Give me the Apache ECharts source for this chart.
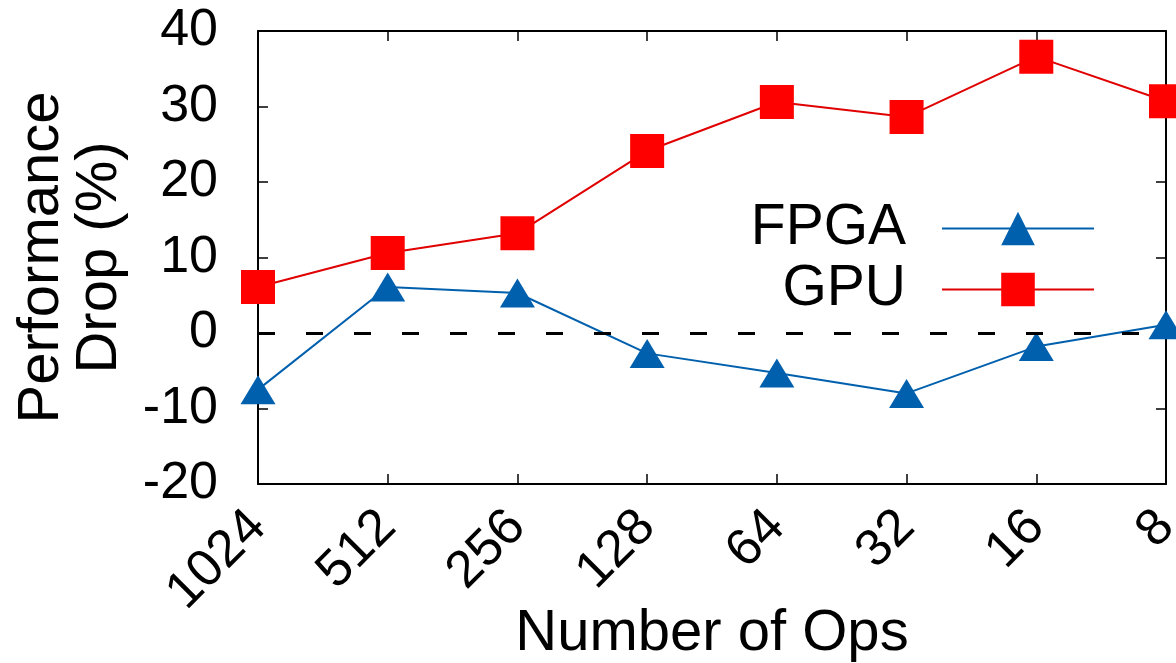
<!DOCTYPE html>
<html><head><meta charset="utf-8">
<script src="https://cdn.jsdelivr.net/npm/echarts@6/dist/echarts.min.js"></script>
<style>html,body{margin:0;padding:0;background:#fff}#c{width:1176px;height:663px}</style>
</head><body><div id="c"></div>
<script>
const categories = ['1024', '512', '256', '128', '64', '32', '16', '8'];
const fpgaValues = [-7.5, 6.1, 5.3, -2.7, -5.3, -8.0, -1.8, 1.1];
const gpuValues = [6.1, 10.6, 13.2, 24.1, 30.6, 28.6, 36.6, 30.7];
const yMin = -20, yMax = 40, yStep = 10;
const seriesNames = ['FPGA', 'GPU'];
const xTitle = 'Number of Ops';
const yTitle = 'Performance\nDrop (%)';

const FONT = "'Liberation Sans', Arial, Helvetica, sans-serif";
const chart = echarts.init(document.getElementById('c'), null, {renderer: 'canvas'});
const frame = {show: true, onZero: false, lineStyle: {color: '#000', width: 2}};
const tickIn = {show: true, inside: true, length: 10, lineStyle: {color: '#000', width: 1.5}};
const legendBase = {
  orient: 'vertical', align: 'right', itemWidth: 152, itemHeight: 42, itemGap: 0,
  textStyle: {fontSize: 57, fontFamily: FONT, color: '#000', padding: [0, 31, 0, 0]},
  selectedMode: false
};
chart.setOption({
  animation: false,
  backgroundColor: '#fff',
  grid: {left: 258, right: 10, top: 31, bottom: 179, containLabel: false, outerBoundsMode: 'none'},
  legend: [
    Object.assign({}, legendBase, {data: [seriesNames[0]], right: 76, top: 195}),
    Object.assign({}, legendBase, {data: [seriesNames[1]], right: 76, top: 256})
  ],
  xAxis: [{
    type: 'category', data: categories, boundaryGap: false, position: 'bottom',
    axisLine: frame, axisTick: Object.assign({}, tickIn, {alignWithLabel: true}),
    axisLabel: {rotate: 45, fontSize: 52, fontFamily: FONT, color: '#000', margin: 35, interval: 0},
    splitLine: {show: false},
    name: xTitle, nameLocation: 'middle', nameGap: 121, nameMoveOverlap: false,
    nameTextStyle: {fontSize: 58, fontFamily: FONT, color: '#000'}
  }, {
    type: 'category', data: categories, boundaryGap: false, position: 'top',
    axisLine: frame, axisTick: tickIn, axisLabel: {show: false}, splitLine: {show: false}
  }],
  yAxis: [{
    type: 'value', min: yMin, max: yMax, interval: yStep, position: 'left',
    axisLine: frame, axisTick: tickIn,
    axisLabel: {fontSize: 52, fontFamily: FONT, color: '#000', margin: 40},
    splitLine: {show: false},
    name: yTitle, nameLocation: 'middle', nameGap: 129, nameRotate: 90, nameMoveOverlap: false,
    nameTextStyle: {fontSize: 58, lineHeight: 58, fontFamily: FONT, color: '#000', align: 'center'}
  }, {
    type: 'value', min: yMin, max: yMax, interval: yStep, position: 'right',
    axisLine: frame, axisTick: tickIn, axisLabel: {show: false}, splitLine: {show: false}
  }],
  series: [{
    name: seriesNames[0], type: 'line', data: fpgaValues,
    symbol: 'triangle', symbolSize: [35, 29],
    itemStyle: {color: '#0060ad'}, lineStyle: {color: '#0060ad', width: 2},
    z: 3,
    markLine: {
      silent: true, symbol: ['none', 'none'], label: {show: false},
      lineStyle: {color: '#000', width: 3, type: [17, 31]},
      data: [{yAxis: 0}]
    }
  }, {
    name: seriesNames[1], type: 'line', data: gpuValues,
    symbol: 'rect', symbolSize: 34,
    itemStyle: {color: '#ff0000'}, lineStyle: {color: '#e00000', width: 2},
    z: 4
  }]
});
</script></body></html>
